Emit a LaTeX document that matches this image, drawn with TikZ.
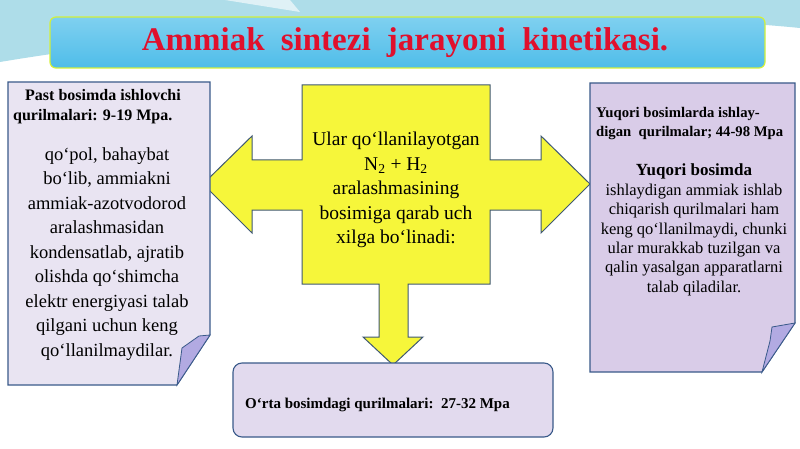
\documentclass[tikz,border=0pt]{standalone}
\usepackage{fontspec}
\setmainfont{Liberation Serif}
\definecolor{skyband}{HTML}{AEDDE9}
\definecolor{titlefill}{HTML}{4FBDE9}
\definecolor{titletop}{HTML}{7FD0F0}
\definecolor{titleedge}{HTML}{D4F03A}
\definecolor{titlered}{HTML}{E0102C}
\definecolor{boxline}{HTML}{3A5A8A}
\definecolor{leftfill}{HTML}{E9E4F2}
\definecolor{rightfill}{HTML}{D9CCE8}
\definecolor{midfill}{HTML}{E2DAEE}
\definecolor{flapfill}{HTML}{B2AAE2}
\definecolor{hubfill}{HTML}{F6F63A}
\definecolor{hubline}{HTML}{3F5873}
\tikzset{
  sheet/.style={draw=boxline, line width=1.1pt},
  flap/.style={draw=boxline, line width=0.8pt, fill=flapfill},
  body/.style={align=center, inner sep=0pt, font=\fontsize{19}{24.5}\selectfont},
  smallbody/.style={align=center, inner sep=0pt, font=\fontsize{16.5}{19.4}\selectfont},
  head/.style={align=left, inner sep=0pt, font=\bfseries\fontsize{14.7}{19}\selectfont},
}
\begin{document}
\begin{tikzpicture}[x=1pt,y=-1pt]
\useasboundingbox (0,0) rectangle (800,449);
% background
\fill[white] (0,0) rectangle (800,449);
\fill[skyband] (0,0) -- (800,0) -- (800,28) .. controls (600,8) and (250,20) .. (0,62) -- cycle;
\fill[white!60!skyband] (225,0) -- (290,0) -- (300,12) -- cycle;
% title
\shade[top color=titletop, bottom color=titlefill, draw=titleedge, line width=1.2pt, rounded corners=6pt]
  (50,17) rectangle (765,68);
\node[text=titlered, font=\bfseries\fontsize{33}{36}\selectfont] (title) at (405,43)
  {Ammiak\hspace{8pt} sintezi\hspace{8pt} jarayoni\hspace{8pt} kinetikasi.};
% center shape with three arrows
\draw[fill=hubfill, draw=hubline, line width=1pt, line join=miter]
  (302,85) -- (490,85) -- (490,160) -- (541,160) -- (541,136) -- (590,184) -- (541,233)
  -- (541,210) -- (490,210) -- (490,284) -- (408,284) -- (408,337) -- (423,337)
  -- (393,365) -- (363,337) -- (379,337) -- (379,284) -- (302,284) -- (302,210)
  -- (252,210) -- (252,233) -- (203,184) -- (252,136) -- (252,160) -- (302,160) -- cycle;
\node[body, font=\fontsize{19.5}{24.5}\selectfont] (hub) at (396,190)
  {Ular qo‘llanilayotgan\\N\textsubscript{2} + H\textsubscript{2}\\aralashmasining\\bosimiga qarab uch\\xilga bo‘linadi:};
% left sheet
\draw[sheet, fill=leftfill] (8,82) -- (210,82) -- (210,335) -- (177,385) -- (8,385) -- cycle;
\draw[flap] (199,336) -- (210,335) -- (177,385) -- (182,348) -- cycle;
\node[head, anchor=north west, font=\bfseries\fontsize{16}{20}\selectfont] (pasthead) at (13,89)
  {\hspace{12pt}Past bosimda ishlovchi\\qurilmalari: 9-19 Mpa.};
\node[body, font=\fontsize{18.5}{24.5}\selectfont] (past) at (107,254)
  {qo‘pol, bahaybat\\bo‘lib, ammiakni\\ammiak-azotvodorod\\aralashmasidan\\kondensatlab, ajratib\\olishda qo‘shimcha\\elektr energiyasi talab\\qilgani uchun keng\\qo‘llanilmaydilar.};
% right sheet
\draw[sheet, fill=rightfill] (590,83) -- (795,83) -- (795,323) -- (762,372) -- (590,372) -- cycle;
\draw[flap] (772,327) -- (795,323) -- (762,372) -- (770,341) -- cycle;
\node[head, anchor=north west] (yuqorihead) at (596,107)
  {Yuqori bosimlarda ishlay-\\digan\ \ qurilmalar; 44-98 Mpa};
\node[smallbody, anchor=north] (yuqori) at (694,164)
  {{\bfseries\fontsize{17}{19.4}\selectfont Yuqori bosimda}\\ishlaydigan ammiak ishlab\\chiqarish qurilmalari ham\\keng qo‘llanilmaydi, chunki\\ular murakkab tuzilgan va\\qalin yasalgan apparatlarni\\talab qiladilar.};
% bottom box
\draw[sheet, fill=midfill, rounded corners=9pt] (233,363) rectangle (553,437);
\node[head, anchor=west, font=\bfseries\fontsize{15}{19}\selectfont] (orta) at (245,405) {O‘rta bosimdagi qurilmalari:\ \ 27-32 Mpa};
\end{tikzpicture}
\end{document}
